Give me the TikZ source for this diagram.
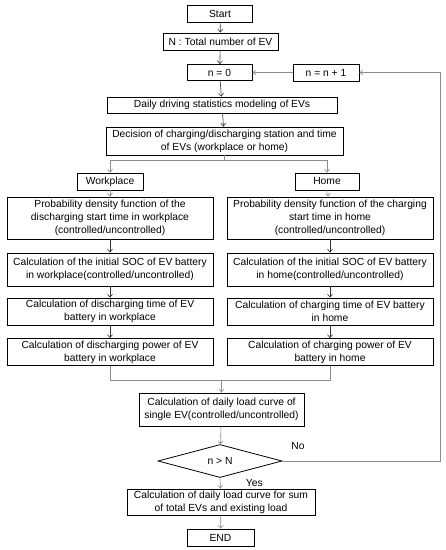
\documentclass[tikz,border=0pt]{standalone}
\usepackage{fontspec}
\setmainfont{Liberation Sans}
\usetikzlibrary{arrows.meta,shapes.geometric}

\begin{document}
\begin{tikzpicture}[x=1pt,y=-1pt,
        font=\fontsize{10.3}{12.8}\selectfont,
        >={Straight Barb[length=3pt,width=5pt]},
        box/.style={draw,thick,rectangle,align=center,inner sep=1pt},
        colbox/.style={box,minimum width=206pt},
        flow/.style={->,line width=0.6pt,black!80},
        link/.style={->,line width=0.6pt,black!45},
        wire/.style={line width=0.6pt,black!45}]
        %% Frame
        \useasboundingbox (0,0) rectangle (446,550);
        %% Top of the loop
        \node[box,minimum width=65pt,minimum height=17pt] (start) at (220,13.5) {Start};
        \node[box,minimum width=115pt,minimum height=17pt] (total) at (220.5,41.5)
            {N : Total number of EV};
        \node[box,minimum width=65pt,minimum height=16pt] (nzero) at (219.5,72.5) {n = 0};
        \node[box,minimum width=66pt,minimum height=17pt] (ninc) at (326,72.5) {n = n + 1};
        \node[box,minimum width=230pt,minimum height=16pt] (daily) at (222,105)
            {Daily driving statistics modeling of EVs};
        \node[box,minimum width=237pt,minimum height=28pt] (decide) at (224.5,141)
            {Decision of charging/discharging station and time\\of EVs (workplace or home)};
        %% Workplace column
        \node[box,minimum width=66pt,minimum height=17pt] (work) at (110,181.5) {Workplace};
        \node[colbox,minimum height=42pt] (pdfW) at (110,218)
            {Probability density function of the\\discharging start time in workplace\\(controlled/uncontrolled)};
        \node[colbox,minimum height=33pt] (socW) at (110,269.5)
            {Calculation of the initial SOC of EV battery\\in workplace(controlled/uncontrolled)};
        \node[colbox,minimum height=27pt] (timeW) at (110,311.5)
            {Calculation of discharging time of EV\\battery in workplace};
        \node[colbox,minimum height=27pt] (powW) at (110,352)
            {Calculation of discharging power of EV\\battery in workplace};
        %% Home column
        \node[box,minimum width=64pt,minimum height=17pt] (home) at (327,181.5) {Home};
        \node[colbox,minimum height=42pt] (pdfH) at (330,218)
            {Probability density function of the charging\\start time in home\\(controlled/uncontrolled)};
        \node[colbox,minimum height=33pt] (socH) at (330,269.5)
            {Calculation of the initial SOC of EV battery\\in home(controlled/uncontrolled)};
        \node[colbox,minimum height=27pt] (timeH) at (330,311.5)
            {Calculation of charging time of EV battery\\in home};
        \node[colbox,minimum height=27pt] (powH) at (330,352)
            {Calculation of charging power of EV\\battery in home};
        %% Bottom
        \node[box,minimum width=165pt,minimum height=33pt] (single) at (221.5,409.5)
            {Calculation of daily load curve of\\single EV(controlled/uncontrolled)};
        \node[draw,thick,diamond,aspect=3.7,minimum width=124pt,minimum height=33pt,
            inner sep=0pt] (check) at (220,461) {n > N};
        \node[box,minimum width=188pt,minimum height=26pt] (sum) at (221,502)
            {Calculation of daily load curve for sum\\of total EVs and existing load};
        \node[box,minimum width=67pt,minimum height=17pt] (finish) at (220.5,537.5) {END};
        %% Bends
        \coordinate (split) at (224.5,160);
        \coordinate (merge) at (221.5,380);
        \coordinate (back) at (440,72.5);
        %% Arrows
        \draw[flow] (start) -- (total);
        \draw[flow] (total) -- (nzero);
        \draw[flow] (nzero) -- (daily);
        \draw[flow] (daily) -- (decide);
        \draw[wire] (decide.south) -- (split);
        \draw[link] (split) -| (work.north);
        \draw[link] (split) -| (home.north);
        \draw[link] (work) -- (pdfW);
        \draw[link] (home) -- (pdfH);
        \draw[flow] (pdfW) -- (socW);
        \draw[flow] (socW) -- (timeW);
        \draw[flow] (timeW) -- (powW);
        \draw[flow] (pdfH) -- (socH);
        \draw[flow] (socH) -- (timeH);
        \draw[flow] (timeH) -- (powH);
        \draw[wire] (powW.south) |- (merge);
        \draw[wire] (powH.south) |- (merge);
        \draw[link] (merge) -- (single.north);
        \draw[link] (single) -- (check);
        \draw[link] (check.east) -| (back) -- (ninc.east);
        \draw[link] (ninc) -- (nzero);
        \draw[link] (check.south) -- (sum)
            node[pos=0.5,anchor=west,xshift=22pt,text=black] {Yes};
        \draw[link] (sum) -- (finish);
        \node (no) at (298,446) {No};
    \end{tikzpicture}
\end{document}
